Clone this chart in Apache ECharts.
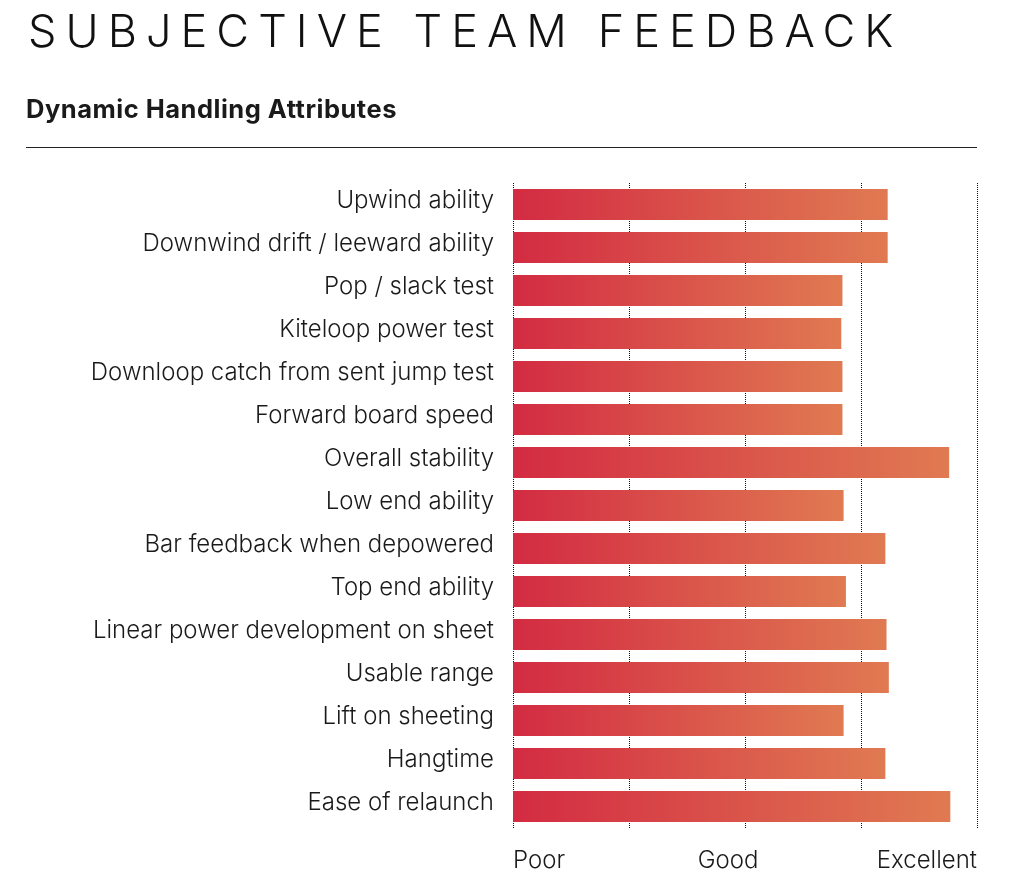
<!DOCTYPE html>
<html>
<head>
<meta charset="utf-8">
<script src="https://cdn.jsdelivr.net/npm/echarts@6/dist/echarts.min.js"></script>
<style>
  html, body { margin: 0; padding: 0; background: #fff; }
  body { width: 1010px; height: 886px; position: relative; overflow: hidden; font-family: Inter, 'Noto Sans', sans-serif; color: #111; }
  #title { position: absolute; left: 28px; top: 3px; font-size: 45px; font-weight: 300; letter-spacing: 9.05px; line-height: 56px; white-space: nowrap; }
  #subtitle { position: absolute; left: 26px; top: 94px; font-size: 25.5px; font-weight: 700; line-height: 30px; letter-spacing: 0.5px; color: #1a1a1a; }
  #rule { position: absolute; left: 26px; top: 147px; width: 951px; height: 0; border-top: 1.5px solid #222; }
  #chart { position: absolute; left: 0; top: 0; width: 1010px; height: 886px; }
</style>
</head>
<body>
<div id="chart"></div>
<div id="title">SUBJECTIVE TEAM FEEDBACK</div>
<div id="subtitle">Dynamic Handling Attributes</div>
<div id="rule"></div>
<script>
// rating 0 = poor, 2 = good, 4 = excellent
const categories = [
  'Upwind ability',
  'Downwind drift / leeward ability',
  'Pop / slack test',
  'Kiteloop power test',
  'Downloop catch from sent jump test',
  'Forward board speed',
  'Overall stability',
  'Low end ability',
  'Bar feedback when depowered',
  'Top end ability',
  'Linear power development on sheet',
  'Usable range',
  'Lift on sheeting',
  'Hangtime',
  'Ease of relaunch'
];
const scores = [3.23, 3.23, 2.84, 2.83, 2.84, 2.84, 3.76, 2.85, 3.21, 2.87, 3.22, 3.24, 2.85, 3.21, 3.77];
const tickLabels = ['Poor', '', 'Good', '', 'Excellent'];

var myChart = echarts.init(document.getElementById('chart'));
myChart.setOption({
  animation: false,
  textStyle: { fontFamily: 'Inter, "Noto Sans", sans-serif' },
  grid: {
    left: 513,
    right: 33,
    top: 183,
    height: 645,
    containLabel: false,
    outerBoundsMode: 'none'
  },
  xAxis: {
    type: 'value',
    min: 0,
    max: 4,
    interval: 1,
    axisLine: { show: false },
    axisTick: { show: false },
    splitLine: {
      show: true,
      lineStyle: { color: '#111', type: 'dotted', width: 1 }
    },
    axisLabel: {
      margin: 21,
      fontSize: 24,
      fontWeight: 300,
      color: '#1a1a1a',
      alignMinLabel: 'left',
      alignMaxLabel: 'right',
      formatter: function (v) {
        var t = tickLabels[Math.round(v)] || '';
        // "Good" sits a bit left of its gridline in the original
        return t === 'Good' ? '{g|' + t + '}' : t;
      },
      rich: {
        g: { fontSize: 24, fontWeight: 300, color: '#1a1a1a', padding: [0, 34, 0, 0] }
      }
    }
  },
  yAxis: {
    type: 'category',
    data: categories,
    inverse: true,
    axisLine: { show: false },
    axisTick: { show: false },
    splitLine: { show: false },
    axisLabel: {
      margin: 19,
      formatter: function (v) {
        return '{a|' + v + '}';
      },
      rich: {
        // labels sit a little above the bar centre
        a: { fontSize: 24, fontWeight: 300, color: '#1a1a1a', padding: [0, 0, 8, 0] }
      }
    }
  },
  series: [
    {
      type: 'bar',
      data: scores,
      barWidth: 31,
      itemStyle: {
        color: new echarts.graphic.LinearGradient(0, 0, 1, 0, [
          { offset: 0, color: '#d32b42' },
          { offset: 1, color: '#e07a52' }
        ])
      }
    }
  ]
});
</script>
</body>
</html>
